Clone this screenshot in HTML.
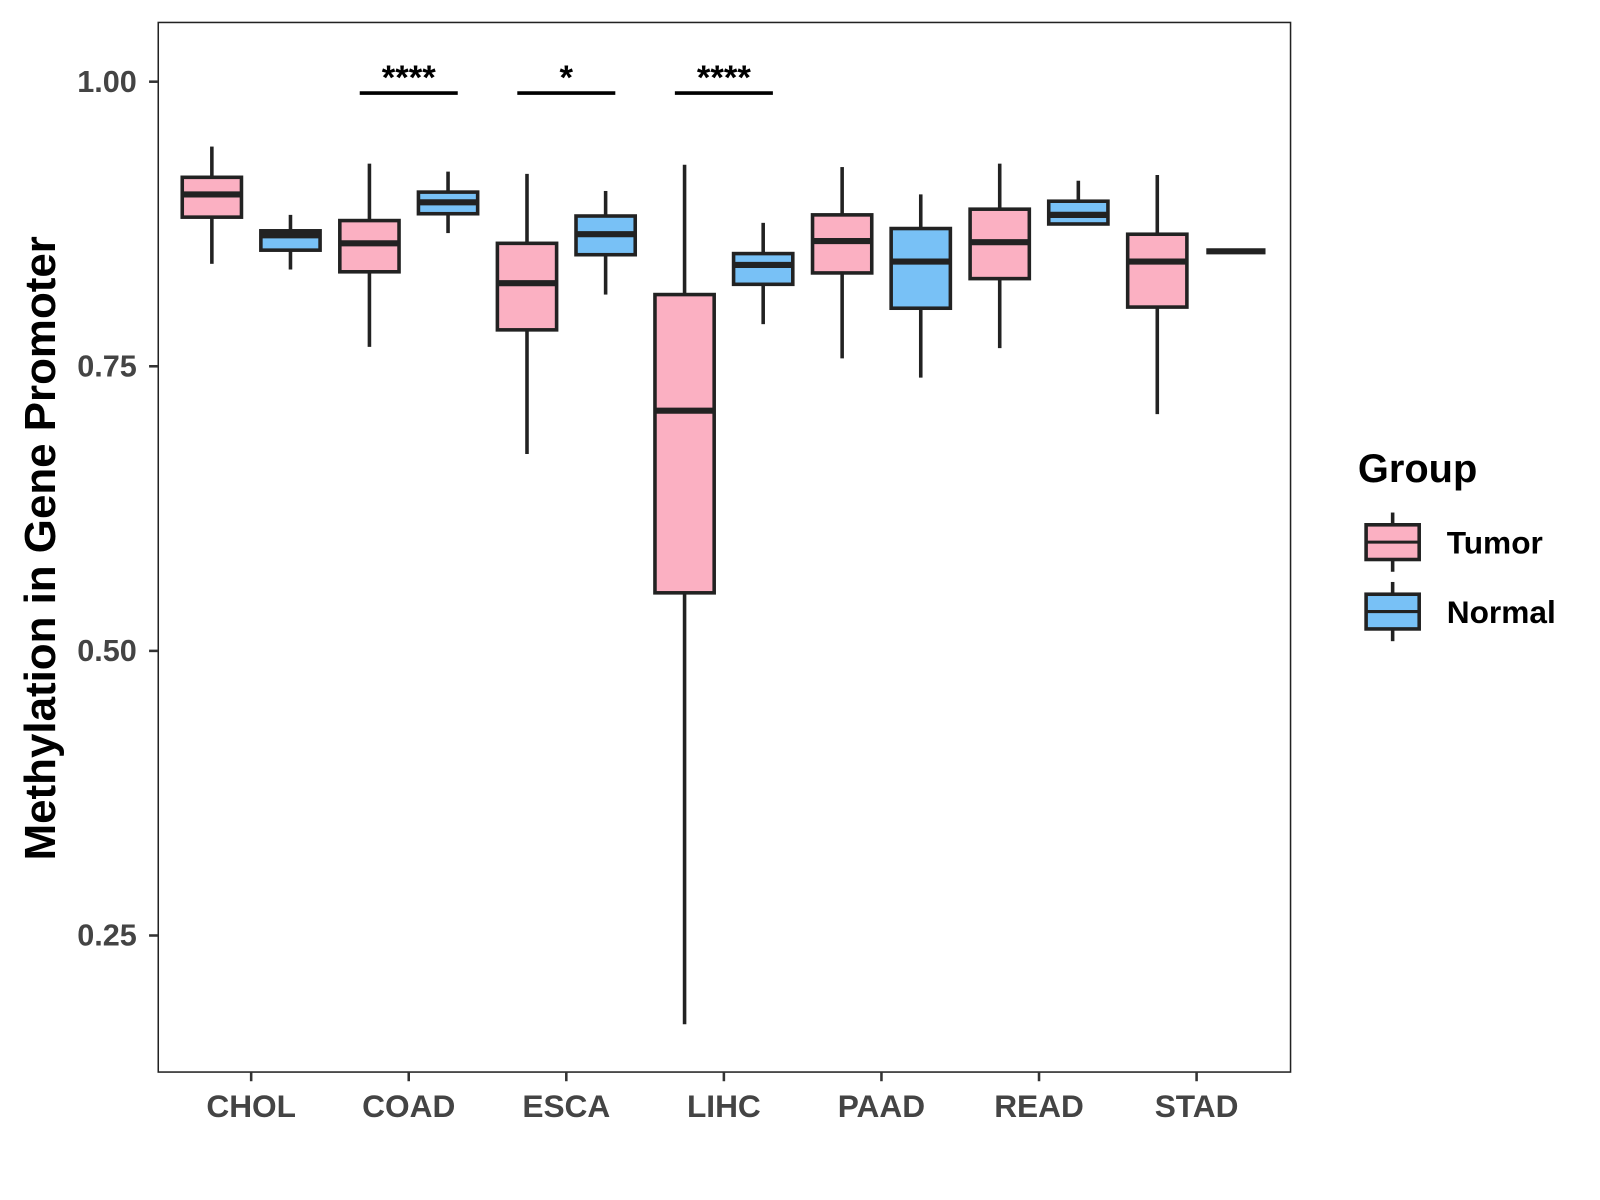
<!DOCTYPE html>
<html><head><meta charset="utf-8"><style>
html,body{margin:0;padding:0;background:#fff;width:1600px;height:1200px;overflow:hidden}
svg{font-family:"Liberation Sans",Arial,sans-serif;font-weight:bold}
</style></head><body>
<svg width="1600" height="1200" xmlns="http://www.w3.org/2000/svg"><g id="chart" transform="scale(1.021)"></g></svg>
<script>
const categories = ["CHOL","COAD","ESCA","LIHC","PAAD","READ","STAD"];
const tumorLo  = [0.840,0.767,0.673,0.172,0.757,0.766,0.708];
const tumorQ1  = [0.881,0.833,0.782,0.551,0.832,0.827,0.802];
const tumorMed = [0.901,0.858,0.823,0.711,0.860,0.859,0.842];
const tumorQ3  = [0.916,0.878,0.858,0.813,0.883,0.888,0.866];
const tumorHi  = [0.943,0.928,0.919,0.927,0.925,0.928,0.918];
const normalLo  = [0.835,0.867,0.813,0.787,0.740,0.874,0.851];
const normalQ1  = [0.852,0.884,0.848,0.822,0.801,0.875,0.851];
const normalMed = [0.865,0.894,0.866,0.839,0.842,0.883,0.851];
const normalQ3  = [0.869,0.903,0.882,0.849,0.871,0.895,0.851];
const normalHi  = [0.883,0.921,0.904,0.876,0.901,0.913,0.851];
const yTicks = [0.25,0.50,0.75,1.00];
const yTickLabels = ["0.25","0.50","0.75","1.00"];
const sigCats = ["COAD","ESCA","LIHC"];
const sigLabels = ["****","*","****"];
const sigLevel = [0.99,0.99,0.99];

const NS="http://www.w3.org/2000/svg";
const svg=document.getElementById('chart');
function mk(tag,attrs,parent){const e=document.createElementNS(NS,tag);for(const k in attrs)e.setAttribute(k,attrs[k]);(parent||svg).appendChild(e);return e;}
const P={l:155,r:1264,t:22,b:1050};
function y(v){return 80+(1-v)*1115;}
function x(i){return 246+i*154.33;}
const off=38.5, bw=58;

const panel=mk('rect',{x:P.l,y:P.t,width:P.r-P.l,height:P.b-P.t,fill:'#fff',stroke:'#222','stroke-width':1.5});



yTicks.forEach((t,i)=>{
  const tk=mk('line',{x1:P.l-9,x2:P.l,y1:y(t),y2:y(t),stroke:'#333','stroke-width':2.5});
  
  
  const tx=mk('text',{x:P.l-21,y:y(t)+10,'text-anchor':'end','font-size':30,fill:'#444'});
  tx.textContent=yTickLabels[i];
  
  
});
categories.forEach((c,i)=>{
  const tk=mk('line',{x1:x(i),x2:x(i),y1:P.b,y2:P.b+9,stroke:'#333','stroke-width':2.5});
  
  
  const tx=mk('text',{x:x(i),y:P.b+44,'text-anchor':'middle','font-size':31,fill:'#444'});
  tx.textContent=c;
  
  
});

function box(cx,lo,q1,med,q3,hi,fill,name){
  const g=mk('g',{});
  
  
  mk('line',{x1:cx,x2:cx,y1:y(hi),y2:y(q3),stroke:'#222','stroke-width':3.5},g);
  mk('line',{x1:cx,x2:cx,y1:y(q1),y2:y(lo),stroke:'#222','stroke-width':3.5},g);
  mk('rect',{x:cx-bw/2,y:y(q3),width:bw,height:Math.max(0,y(q1)-y(q3)),fill:fill,stroke:'#222','stroke-width':3.5},g);
  mk('line',{x1:cx-bw/2,x2:cx+bw/2,y1:y(med),y2:y(med),stroke:'#222','stroke-width':6},g);
}
categories.forEach((c,i)=>{
  box(x(i)-off,tumorLo[i],tumorQ1[i],tumorMed[i],tumorQ3[i],tumorHi[i],'#FBB0C2','box-tumor-'+c.toLowerCase());
  box(x(i)+off,normalLo[i],normalQ1[i],normalMed[i],normalQ3[i],normalHi[i],'#78C1F6','box-normal-'+c.toLowerCase());
});

sigCats.forEach((c,k)=>{
  const i=categories.indexOf(c);
  const ln=mk('line',{x1:x(i)-48,x2:x(i)+48,y1:y(sigLevel[k]),y2:y(sigLevel[k]),stroke:'#000','stroke-width':3.5});
  
  
  const t=mk('text',{x:x(i),y:y(sigLevel[k])-4,'text-anchor':'middle','font-size':34,fill:'#000'});
  t.textContent=sigLabels[k];
  
  
});

const yt=mk('text',{x:0,y:0,'text-anchor':'middle','font-size':43,fill:'#000',transform:'translate(54,537) rotate(-90)'});
yt.textContent='Methylation in Gene Promoter';



const lt=mk('text',{x:1330,y:472,'font-size':39,fill:'#000'});
lt.textContent='Group';


[['Tumor','#FBB0C2',531],['Normal','#78C1F6',599]].forEach(([lab,col,cy])=>{
  const g=mk('g',{});
  
  
  mk('line',{x1:1364,x2:1364,y1:cy-29,y2:cy+29,stroke:'#222','stroke-width':3.5},g);
  mk('rect',{x:1338,y:cy-17,width:52,height:34,fill:col,stroke:'#222','stroke-width':3.5},g);
  mk('line',{x1:1338,x2:1390,y1:cy,y2:cy,stroke:'#222','stroke-width':3},g);
  const t=mk('text',{x:1417,y:cy+11,'font-size':31,fill:'#000'},g);
  t.textContent=lab;
});
</script>
</body></html>
